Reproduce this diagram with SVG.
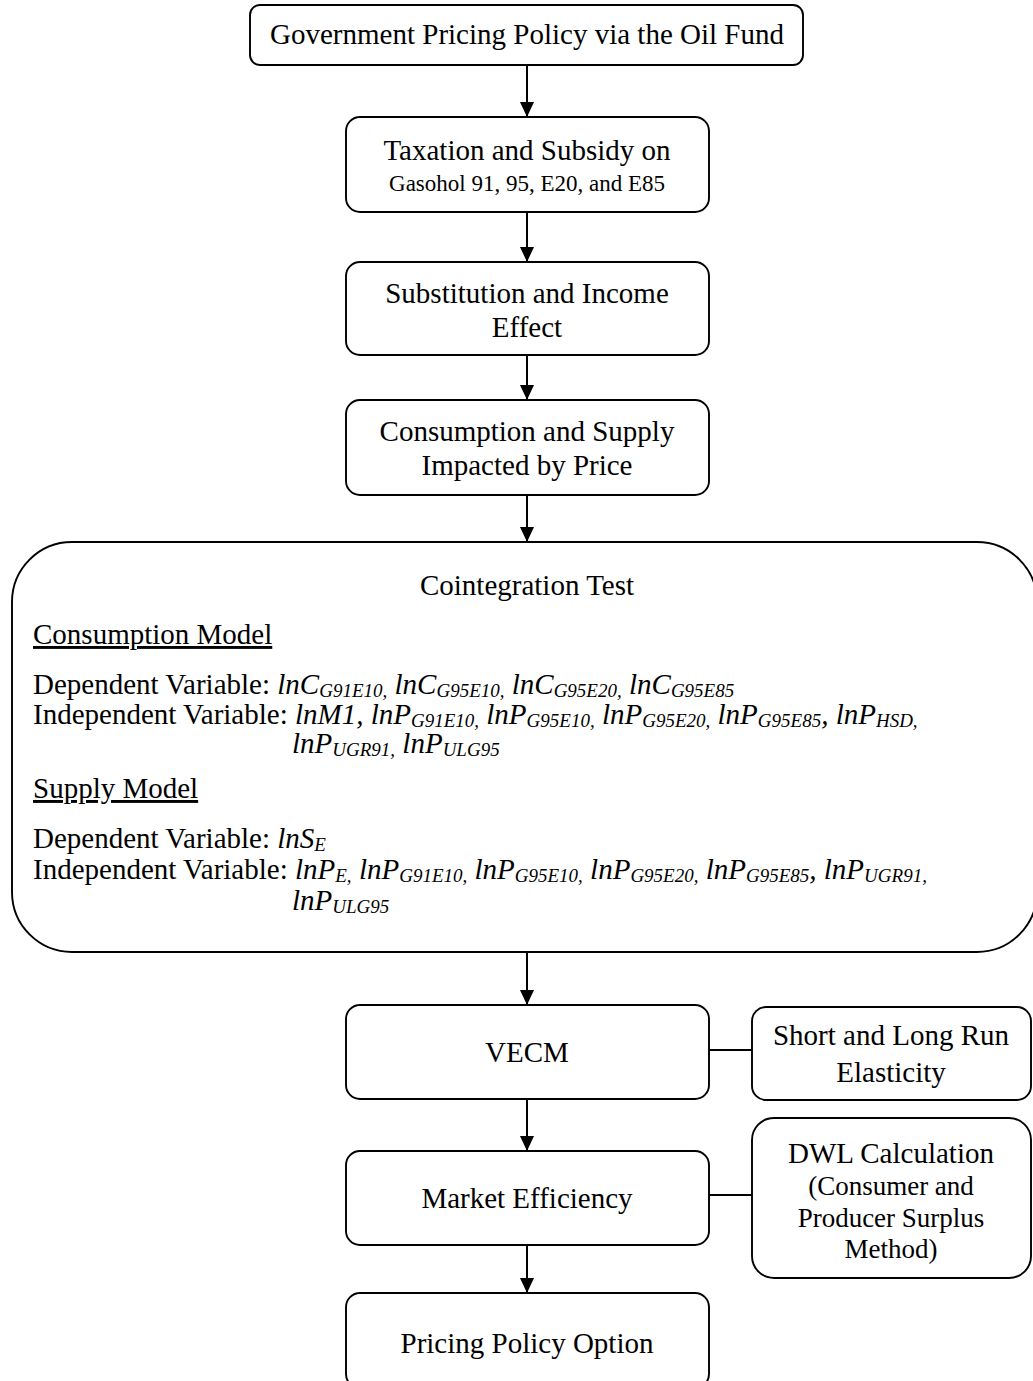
<svg xmlns="http://www.w3.org/2000/svg" width="1033" height="1381" viewBox="0 0 1033 1381">
  <style>
    .box { fill: #ffffff; stroke: #000000; stroke-width: 1.9; }
    .edge { stroke: #000000; stroke-width: 2; fill: none; }
    .link { stroke: #000000; stroke-width: 1.9; fill: none; }
    text { font-family: "Liberation Serif", "Times New Roman", serif; fill: #000000; }
    .t { font-size: 29px; text-anchor: middle; }
    .s { font-size: 23px; text-anchor: middle; }
    .m { font-size: 27px; text-anchor: middle; }
    .b { font-size: 29px; }
    .v { font-style: italic; }
    .sub { font-size: 19px; font-style: italic; }
  </style>
  <defs>
    <marker id="arrow" markerUnits="userSpaceOnUse" markerWidth="16" markerHeight="16" refX="15" refY="8" orient="auto">
      <path d="M0,1 L15,8 L0,15 Z" fill="#000000"/>
    </marker>
  </defs>

  <!-- connectors -->
  <g id="connectors">
    <line class="edge" x1="527" y1="65" x2="527" y2="117" marker-end="url(#arrow)"/>
    <line class="edge" x1="527" y1="212" x2="527" y2="262" marker-end="url(#arrow)"/>
    <line class="edge" x1="527" y1="355" x2="527" y2="400" marker-end="url(#arrow)"/>
    <line class="edge" x1="527" y1="495" x2="527" y2="542" marker-end="url(#arrow)"/>
    <line class="edge" x1="527" y1="952" x2="527" y2="1005" marker-end="url(#arrow)"/>
    <line class="edge" x1="527" y1="1099" x2="527" y2="1151" marker-end="url(#arrow)"/>
    <line class="edge" x1="527" y1="1245" x2="527" y2="1293" marker-end="url(#arrow)"/>
    <line class="link" x1="709" y1="1050" x2="752" y2="1050"/>
    <line class="link" x1="709" y1="1195" x2="752" y2="1195"/>
  </g>

  <g id="policy">
    <rect class="box" x="250" y="5" width="553" height="60" rx="10"/>
    <text class="t" x="527" y="44">Government Pricing Policy via the Oil Fund</text>
  </g>

  <g id="taxation">
    <rect class="box" x="346" y="117" width="363" height="95" rx="14"/>
    <text class="t" x="527" y="160">Taxation and Subsidy on</text>
    <text class="s" x="527" y="191">Gasohol 91, 95, E20, and E85</text>
  </g>

  <g id="substitution">
    <rect class="box" x="346" y="262" width="363" height="93" rx="14"/>
    <text class="t" x="527" y="303">Substitution and Income</text>
    <text class="t" x="527" y="337">Effect</text>
  </g>

  <g id="consumption">
    <rect class="box" x="346" y="400" width="363" height="95" rx="14"/>
    <text class="t" x="527" y="441">Consumption and Supply</text>
    <text class="t" x="527" y="475">Impacted by Price</text>
  </g>

  <g id="cointegration">
    <rect class="box" x="12" y="542" width="1025" height="410" rx="60"/>
    <text class="t" x="527" y="595">Cointegration Test</text>
    <text class="b" x="33" y="644" text-decoration="underline">Consumption Model</text>
    <text class="b" x="33" y="694">Dependent Variable: <tspan class="v">lnC</tspan><tspan class="sub" dy="3">G91E10,</tspan><tspan dy="-3"> </tspan><tspan class="v">lnC</tspan><tspan class="sub" dy="3">G95E10,</tspan><tspan dy="-3"> </tspan><tspan class="v">lnC</tspan><tspan class="sub" dy="3">G95E20,</tspan><tspan dy="-3"> </tspan><tspan class="v">lnC</tspan><tspan class="sub" dy="3">G95E85</tspan></text>
    <text class="b" x="33" y="724">Independent Variable: <tspan class="v">lnM1, lnP</tspan><tspan class="sub" dy="3">G91E10,</tspan><tspan dy="-3"> </tspan><tspan class="v">lnP</tspan><tspan class="sub" dy="3">G95E10,</tspan><tspan dy="-3"> </tspan><tspan class="v">lnP</tspan><tspan class="sub" dy="3">G95E20,</tspan><tspan dy="-3"> </tspan><tspan class="v">lnP</tspan><tspan class="sub" dy="3">G95E85</tspan><tspan class="v" dy="-3">, lnP</tspan><tspan class="sub" dy="3">HSD,</tspan></text>
    <text class="b v" x="292" y="753">lnP<tspan class="sub" dy="3">UGR91,</tspan><tspan dy="-3"> lnP</tspan><tspan class="sub" dy="3">ULG95</tspan></text>
    <text class="b" x="33" y="798" text-decoration="underline">Supply Model</text>
    <text class="b" x="33" y="848">Dependent Variable: <tspan class="v">lnS</tspan><tspan class="sub" dy="3">E</tspan></text>
    <text class="b" x="33" y="879">Independent Variable: <tspan class="v">lnP</tspan><tspan class="sub" dy="3">E,</tspan><tspan dy="-3"> </tspan><tspan class="v">lnP</tspan><tspan class="sub" dy="3">G91E10,</tspan><tspan dy="-3"> </tspan><tspan class="v">lnP</tspan><tspan class="sub" dy="3">G95E10,</tspan><tspan dy="-3"> </tspan><tspan class="v">lnP</tspan><tspan class="sub" dy="3">G95E20,</tspan><tspan dy="-3"> </tspan><tspan class="v">lnP</tspan><tspan class="sub" dy="3">G95E85</tspan><tspan class="v" dy="-3">, lnP</tspan><tspan class="sub" dy="3">UGR91,</tspan></text>
    <text class="b v" x="292" y="910">lnP<tspan class="sub" dy="3">ULG95</tspan></text>
  </g>

  <g id="vecm">
    <rect class="box" x="346" y="1005" width="363" height="94" rx="14"/>
    <text class="t" x="527" y="1062">VECM</text>
  </g>

  <g id="elasticity">
    <rect class="box" x="752" y="1007" width="279" height="93" rx="14"/>
    <text class="t" x="891" y="1045">Short and Long Run</text>
    <text class="t" x="891" y="1082">Elasticity</text>
  </g>

  <g id="efficiency">
    <rect class="box" x="346" y="1151" width="363" height="94" rx="14"/>
    <text class="t" x="527" y="1208">Market Efficiency</text>
  </g>

  <g id="dwl">
    <rect class="box" x="752" y="1118" width="279" height="160" rx="22"/>
    <text class="t" x="891" y="1163">DWL Calculation</text>
    <text class="m" x="891" y="1195">(Consumer and</text>
    <text class="m" x="891" y="1227">Producer Surplus</text>
    <text class="m" x="891" y="1258">Method)</text>
  </g>

  <g id="option">
    <rect class="box" x="346" y="1293" width="363" height="95" rx="14"/>
    <text class="t" x="527" y="1353">Pricing Policy Option</text>
  </g>
</svg>
